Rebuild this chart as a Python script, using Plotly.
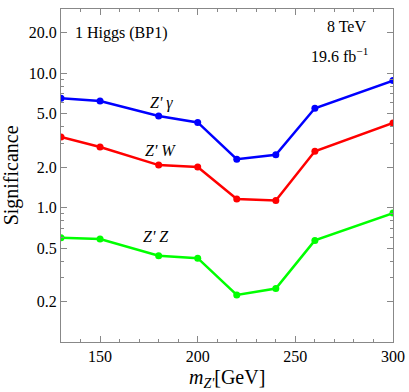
import plotly.graph_objects as go

# Z' mass points [GeV]
mass = [130, 150, 180, 200, 220, 240, 260, 300]

# significance per channel
sig_zgamma = [6.5, 6.2, 4.8, 4.3, 2.29, 2.47, 5.48, 8.8]
sig_zw = [3.35, 2.82, 2.07, 2.0, 1.16, 1.13, 2.62, 4.26]
sig_zz = [0.597, 0.583, 0.438, 0.42, 0.224, 0.25, 0.57, 0.91]

y_ticks = [0.2, 0.5, 1.0, 2.0, 5.0, 10.0, 20.0]
y_ticktext = ["0.2", "0.5", "1.0", "2.0", "5.0", "10.0", "20.0"]
x_ticks = [150, 200, 250, 300]

font_family = "Liberation Serif"

fig = go.Figure()
for ys, col in [(sig_zgamma, "#0000ff"), (sig_zw, "#ff0000"), (sig_zz, "#00ff00")]:
    fig.add_trace(go.Scatter(x=mass, y=ys, mode="lines+markers",
                             line=dict(color=col, width=2.5),
                             marker=dict(color=col, size=7),
                             showlegend=False))

# minor ticks for log axis
y_minor = [v * d for d in (0.1, 1, 10) for v in range(1, 10) if 0.1 <= v * d <= 30]
y_minor = [v for v in y_minor if round(v, 3) not in [round(t, 3) for t in y_ticks]]

axis_common = dict(ticks="inside", mirror="allticks", showline=True, automargin=False,
                   linecolor="#888888", linewidth=1, tickcolor="#888888",
                   showgrid=False, zeroline=False,
                   tickfont=dict(family=font_family, size=16, color="black"))

fig.update_xaxes(range=[130, 300], tickvals=x_ticks, ticklen=6,
                 minor=dict(dtick=10, tick0=130, ticks="inside", ticklen=3, tickcolor="#888888"),
                 **axis_common)
fig.update_yaxes(type="log", range=[-1, 1.477], tickvals=y_ticks, ticktext=y_ticktext,
                 ticklen=6,
                 minor=dict(tickvals=y_minor, ticks="inside", ticklen=3, tickcolor="#888888"),
                 **axis_common)

ann_font = dict(family=font_family, size=16, color="black")
title_font = dict(family=font_family, size=20, color="black")


def label(x, y, text, font=ann_font, **kw):
    fig.add_annotation(x=x, y=y, xref="paper", yref="paper", text=text,
                       xanchor="center", yanchor="middle", showarrow=False,
                       font=font, **kw)


label(0.5, -0.11, "<i>m</i><sub><i>Z'</i></sub>[GeV]", title_font)
label(-0.148, 0.5, "Significance", title_font, textangle=-90)
label(0.181, 0.928, "1 Higgs (BP1)")
label(0.861, 0.946, "8 TeV")
label(0.84, 0.862, "19.6 fb<sup>−1</sup>")
label(0.304, 0.718, "<i>Z' γ</i>")
label(0.301, 0.574, "<i>Z' W</i>")
label(0.286, 0.316, "<i>Z' Z</i>")

fig.update_layout(width=409, height=392, margin=dict(l=61, r=16, t=9, b=50),
                  plot_bgcolor="white", paper_bgcolor="white",
                  font=dict(family=font_family))

# drop the default body margin so the figure sits at the page corner
fig.write_html("out.html", config={"displayModeBar": False},
               post_script="document.body.style.margin='0';")
